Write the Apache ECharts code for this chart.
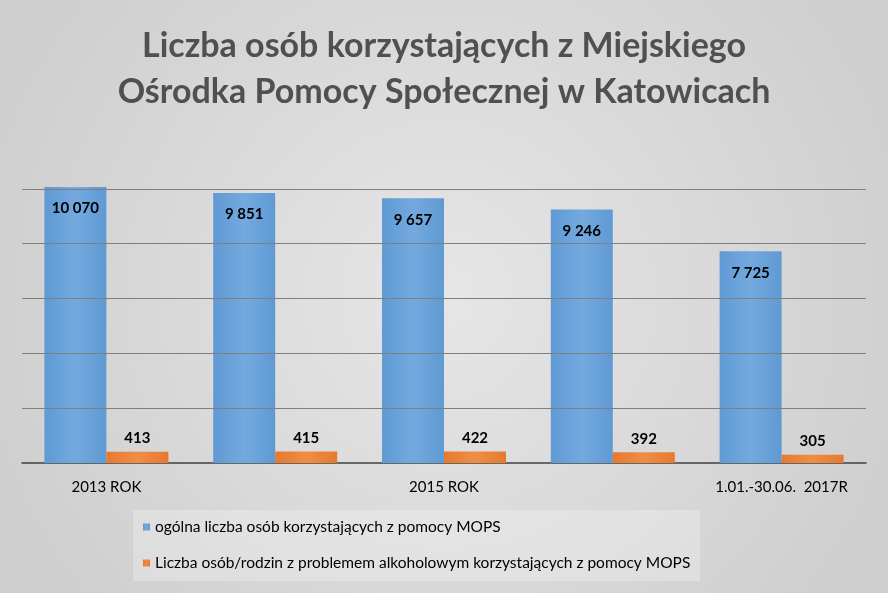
<!DOCTYPE html>
<html><head><meta charset="utf-8">
<script src="https://cdn.jsdelivr.net/npm/echarts@6/dist/echarts.min.js"></script>
<style>html,body{margin:0;padding:0;}#c{width:888px;height:593px;}</style>
</head><body><div id="c"></div>
<script>
const categories = ['2013 ROK','2014 ROK','2015 ROK','2016 ROK','1.01.-30.06.  2017R'];
const totalUsers = [10070, 9851, 9657, 9246, 7725];
const alcoholUsers = [413, 415, 422, 392, 305];
const gridValues = [2000, 4000, 6000, 8000, 10000];
const seriesNames = ['ogólna liczba osób korzystających z pomocy MOPS','Liczba osób/rodzin z problemem alkoholowym korzystających z pomocy MOPS'];
const fmt = v => String(v).replace(/\B(?=(\d{3})+(?!\d))/g, ' ');
const F = 'Lato, "Open Sans", sans-serif';
const chart = echarts.init(document.getElementById('c'));
chart.setOption({
  backgroundColor: new echarts.graphic.RadialGradient(0.5,0.5,0.8,[{offset:0,color:'#e6e6e6'},{offset:1,color:'#cfcfcf'}]),
  title: {text:'Liczba osób korzystających z Miejskiego\nOśrodka Pomocy Społecznej w Katowicach', left:'center', top:18,
    textStyle:{fontFamily:F, fontSize:34, fontWeight:'bold', color:'#505050', lineHeight:46}},
  legend: {orient:'vertical', left:133, top:510, width:622, itemWidth:7, itemHeight:7, itemGap:20, padding:[9,10,10,10],
    backgroundColor:'rgba(255,255,255,0.25)',
    textStyle:{fontFamily:F, fontSize:15.5, color:'#000'}, data:seriesNames, icon:'rect'},
  grid: {left:22, right:22, top:134, bottom:130},
  xAxis: {type:'category', data:categories, axisTick:{show:false},
    axisLine:{lineStyle:{color:'#404040', width:1.5}},
    axisLabel:{fontFamily:F, fontSize:15, color:'#000', margin:17}},
  yAxis: {type:'value', min:0, max:12000, interval:2000, show:true, axisLabel:{show:false}, axisLine:{show:false}, axisTick:{show:false}, splitLine:{show:false}},
  series: [
    {name:seriesNames[0], type:'bar', data:totalUsers, barWidth:62, barGap:'0%',
      itemStyle:{color:new echarts.graphic.LinearGradient(0,0,1,0,[{offset:0,color:'#5f9ad4'},{offset:0.5,color:'#74a9de'},{offset:1,color:'#5f9ad4'}])},
      label:{show:true, position:'insideTop', distance:14, formatter:p=>fmt(p.value), fontFamily:F, fontSize:15, fontWeight:'bold', color:'#000'},
      markLine:{silent:true, symbol:'none', label:{show:false}, lineStyle:{color:'#7f7f7f', type:'solid', width:1}, data:gridValues.map(v=>({yAxis:v}))},
      z:3},
    {name:seriesNames[1], type:'bar', data:alcoholUsers, barWidth:62,
      itemStyle:{color:new echarts.graphic.LinearGradient(0,0,1,0,[{offset:0,color:'#e57a2e'},{offset:0.5,color:'#f08d45'},{offset:1,color:'#e57a2e'}])},
      label:{show:true, position:'top', distance:6, formatter:p=>fmt(p.value), fontFamily:F, fontSize:15, fontWeight:'bold', color:'#000'},
      z:3}
  ]
});
</script></body></html>
